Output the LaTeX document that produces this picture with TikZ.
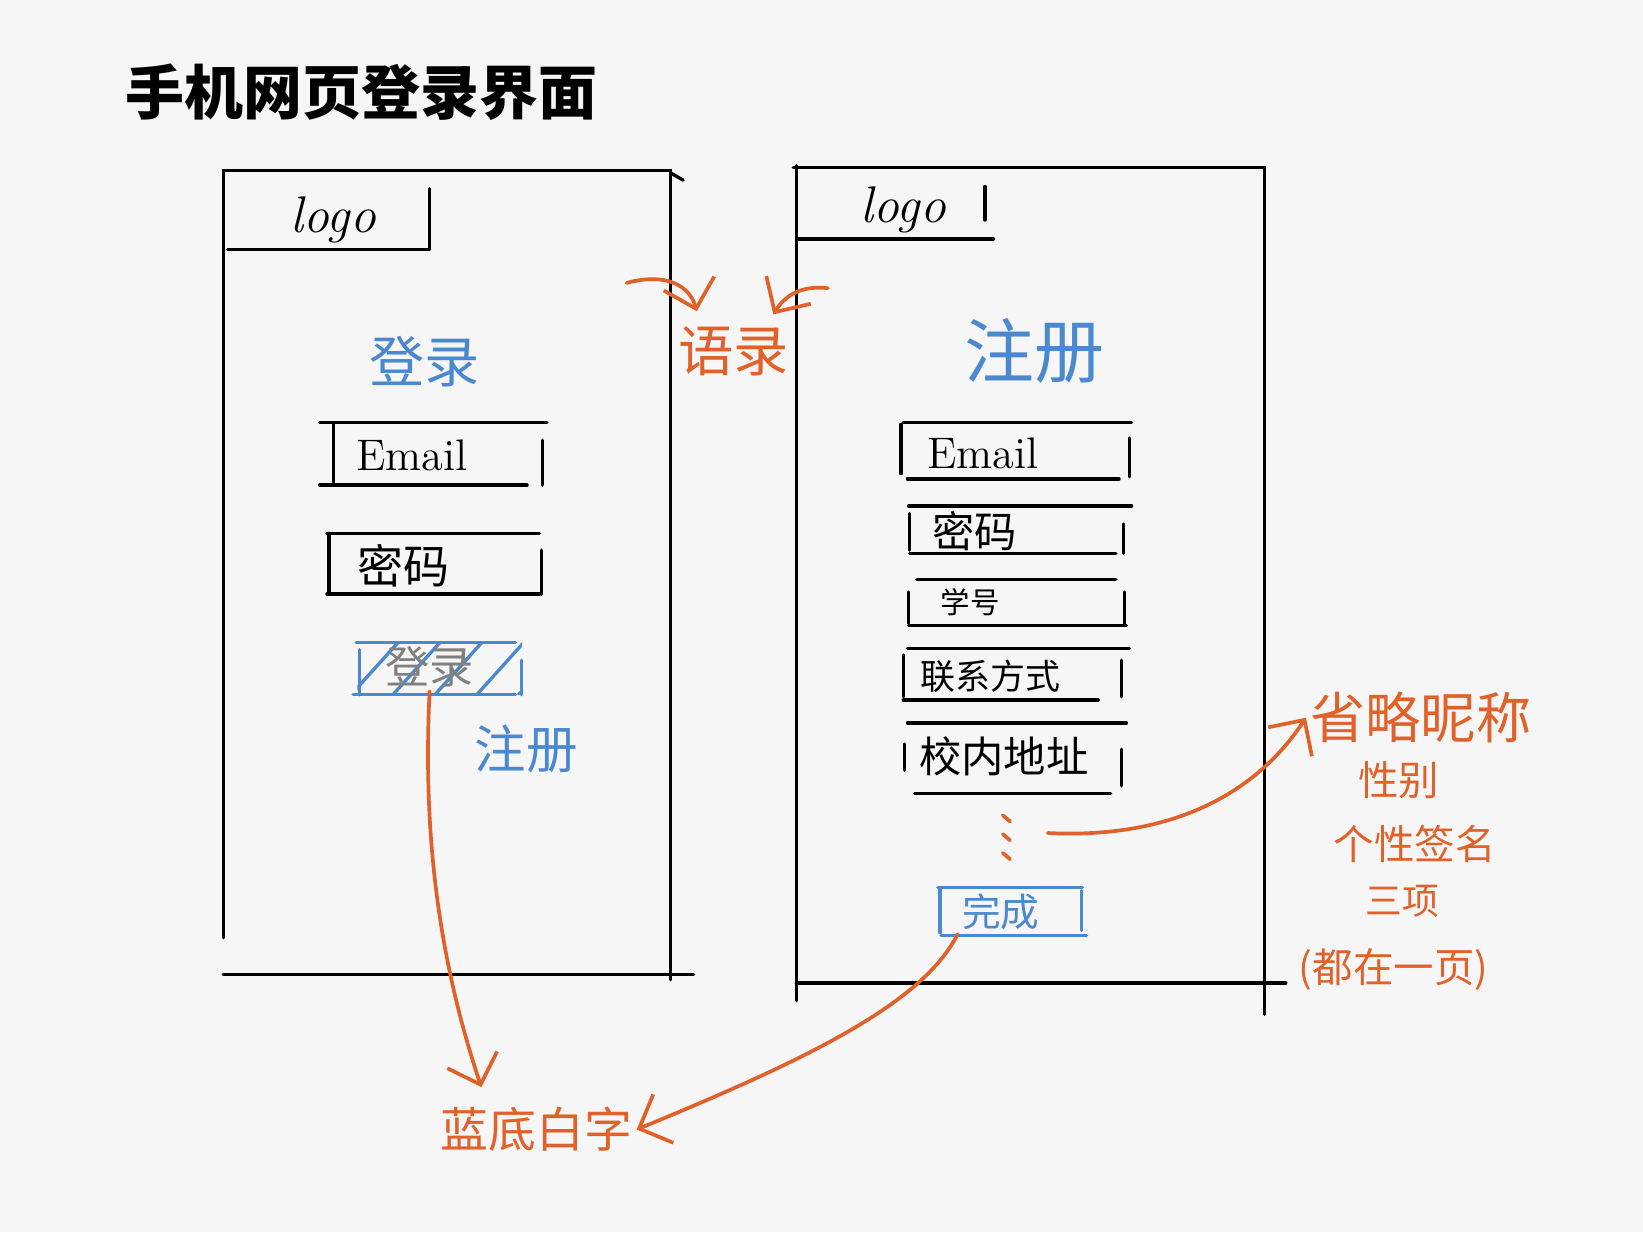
\documentclass[tikz,border=0pt]{standalone}
\usepackage{fontspec}
\newfontfamily\cjk{Noto Sans CJK SC}
\usetikzlibrary{arrows.meta, calc}
\definecolor{sketchorange}{HTML}{E0622A}
\definecolor{sketchblue}{HTML}{4A88CF}
\definecolor{paper}{HTML}{F6F6F6}
\newcommand\fs[1]{\fontsize{#1}{#1}\selectfont}
\tikzset{
  pen/.style={line width=0.9pt, line cap=round},
  bluepen/.style={line width=0.9pt, line cap=round, sketchblue},
  orangepen/.style={line width=1pt, line cap=round, sketchorange},
  orangearrow/.style={orangepen, -{Straight Barb[length=2.5mm, width=5mm]}},
  sketchtext/.style={font=\cjk, inner sep=1pt},
}
\begin{document}
\begin{tikzpicture}[x=0.1mm, y=-0.1mm]
    % paper
    \fill[paper] (0,0) rectangle (1568,1176);
    \useasboundingbox (0,0) rectangle (1568,1176);

    % Title
    \node[sketchtext, font=\cjk\bfseries\fs{16}] (title) at (345,88) {手机网页登录界面};

    % Left phone: login page
    \draw[pen] (213,895) -- (213,163) -- (640,163) -- (640,935);
    \draw[pen] (640,165) -- (652,172);
    \draw[pen] (213,930) -- (662,930);
    \draw[pen] (217,238) -- (410,238);
    \draw[pen] (410,180) -- (410,238);
    \node[font=\itshape\fs{14}] (logoA) at (318,210) {logo};
    \node[sketchtext, sketchblue, font=\cjk\fs{15}] (loginA) at (405,345) {登录};

    % Email field
    \draw[pen] (305,403) -- (522,403);
    \draw[pen] (305,463) -- (503,463);
    \draw[pen] (318,405) -- (318,460);
    \draw[pen] (518,420) -- (518,463);
    \node[font=\fs{12}] (emailA) at (393,435) {Email};

    % Password field
    \draw[pen] (312,509) -- (515,509);
    \draw[pen] (312,567) -- (515,567);
    \draw[pen] (314,509) -- (314,565);
    \draw[pen] (517,525) -- (517,567);
    \node[sketchtext, font=\cjk\fs{12.5}] (pwdA) at (385,540) {密码};

    % Login button (hatched)
    \begin{scope}
      \clip (341,613) rectangle (498,663);
      \foreach \x in {335,375,...,495}
        \draw[bluepen] (\x,663) -- ++(45,-50);
    \end{scope}
    \draw[bluepen] (340,613) -- (492,613);
    \draw[bluepen] (337,663) -- (492,663);
    \draw[bluepen] (343,620) -- (343,663);
    \draw[bluepen] (498,630) -- (498,663);
    \node[sketchtext, gray, font=\cjk\fs{12}] (loginbtn) at (410,636) {登录};
    \node[sketchtext, sketchblue, font=\cjk\fs{14}] (regA) at (502,715) {注册};

    % Right phone: register page
    \draw[pen] (760,955) -- (760,158);
    \draw[pen] (757,160) -- (1207,160) -- (1207,968);
    \draw[pen] (760,938) -- (1227,938);
    \draw[pen] (762,228) -- (948,228);
    \draw[pen] (940,178) -- (940,210);
    \node[font=\itshape\fs{14}] (logoB) at (862,200) {logo};
    \node[sketchtext, sketchblue, font=\cjk\fs{19}] (regB) at (987,335) {注册};

    % Email field
    \draw[pen] (862,403) -- (1080,403);
    \draw[pen] (866,457) -- (1068,457);
    \draw[pen] (860,405) -- (860,452);
    \draw[pen] (1078,418) -- (1078,455);
    \node[font=\fs{12}] (emailB) at (938,433) {Email};

    % Password field
    \draw[pen] (867,483) -- (1080,483);
    \draw[pen] (868,528) -- (1065,528);
    \draw[pen] (868,490) -- (868,525);
    \draw[pen] (1072,500) -- (1072,528);
    \node[sketchtext, font=\cjk\fs{11.5}] (pwdB) at (930,507) {密码};

    % Student number field
    \draw[pen] (875,553) -- (1065,553);
    \draw[pen] (867,597) -- (1075,597);
    \draw[pen] (867,565) -- (867,595);
    \draw[pen] (1073,565) -- (1073,597);
    \node[sketchtext, font=\cjk\fs{8}] (stuno) at (926,575) {学号};

    % Contact field
    \draw[pen] (866,619) -- (1078,619);
    \draw[pen] (862,668) -- (1048,668);
    \draw[pen] (862,625) -- (862,665);
    \draw[pen] (1070,630) -- (1070,665);
    \node[sketchtext, font=\cjk\fs{9.5}] (contact) at (945,645) {联系方式};

    % Campus address field
    \draw[pen] (866,690) -- (1075,690);
    \draw[pen] (873,757) -- (1060,757);
    \draw[pen] (863,710) -- (863,735);
    \draw[pen] (1070,715) -- (1070,750);
    \node[sketchtext, font=\cjk\fs{11.5}] (address) at (958,722) {校内地址};

    % more fields
    \coordinate (dots) at (1000,795);
    \foreach \y in {778,796,814}
      \draw[orangepen] (957,\y) -- (964,\y+6);

    % Done button
    \draw[bluepen] (895,847) -- (1033,847);
    \draw[bluepen] (898,893) -- (1037,893);
    \draw[bluepen] (897,848) -- (897,890);
    \draw[bluepen] (1032,850) -- (1032,888);
    \node[sketchtext, sketchblue, font=\cjk\fs{10.5}] (done) at (955,870) {完成};

    % Notes
    \node[sketchtext, sketchorange, font=\cjk\fs{15}] (quote) at (700,335) {语录};
    \coordinate (fromA) at (598,270);
    \coordinate (fromB) at (790,275);
    \draw[orangearrow] (fromA) .. controls (635,260) and (658,272) .. (665,297);
    \draw[orangearrow] (fromB) .. controls (762,272) and (748,284) .. (738,300);

    \node[sketchtext, sketchorange, font=\cjk\fs{13}] (bluewhite) at (512,1078) {蓝底白字};
    \draw[orangearrow] (loginbtn.south) .. controls (403,800) and (420,920) .. ($(bluewhite.north)!0.55!(bluewhite.north west)+(0,-15)$);
    \draw[orangearrow] (done.south west) .. controls (880,960) and (760,1015) .. (bluewhite.east);

    \node[sketchtext, sketchorange, font=\cjk\fs{15}] (note1) at (1356,685) {省略昵称};
    \node[sketchtext, sketchorange, font=\cjk\fs{11}] (note2) at (1335,745) {性别};
    \node[sketchtext, sketchorange, font=\cjk\fs{11}] (note3) at (1350,805) {个性签名};
    \node[sketchtext, sketchorange, font=\cjk\fs{10}] (note4) at (1338,860) {三项};
    \node[sketchtext, sketchorange, font=\cjk\fs{11}] (note5) at (1330,925) {(都在一页)};
    \draw[orangearrow] (dots) .. controls (1100,800) and (1190,770) .. (note1.west);
  \end{tikzpicture}
\end{document}
